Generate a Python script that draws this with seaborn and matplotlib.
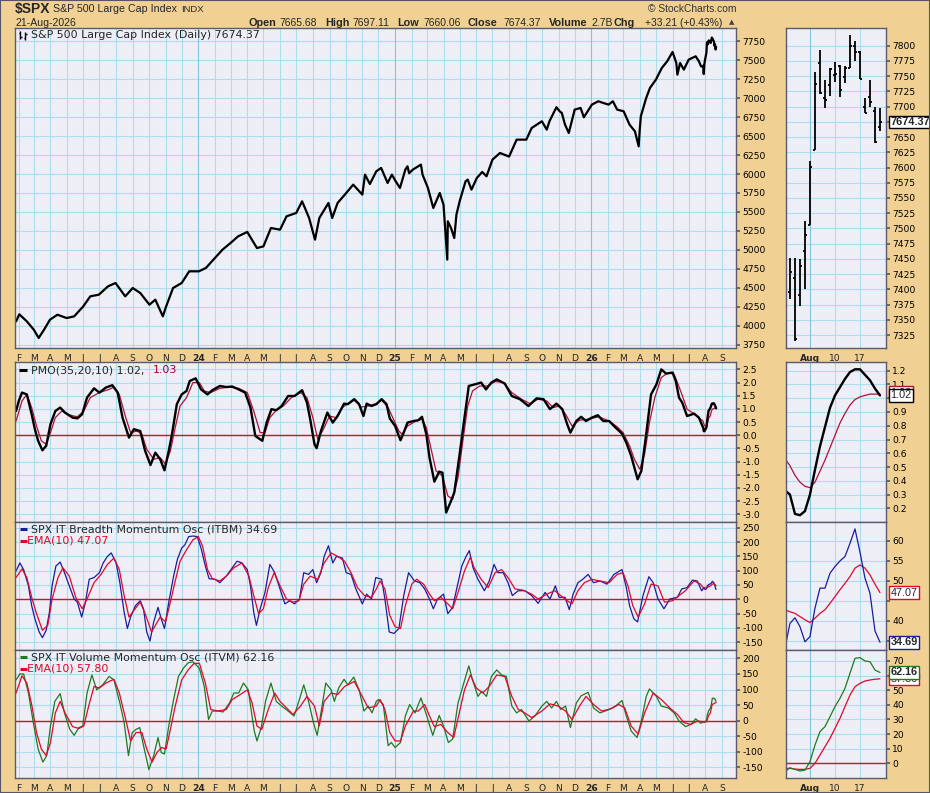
import numpy as np
import pandas as pd
import seaborn as sns
import matplotlib.pyplot as plt
from matplotlib.lines import Line2D
from matplotlib.patches import Rectangle
from matplotlib.transforms import blended_transform_factory

W, H = 930, 793

BG = "#F0D093"
FACE = "#EEEEF6"
GRID = "#ABDDEC"
GRID_YEAR = "#85C2DC"
EDGE = "#5B5B70"
RED = "#E2062E"
SIG_RED = "#B0103A"
BLUE = "#1C1C9C"
GREEN = "#1E7A1E"
ARIAL = "Liberation Sans"

# ---- S&P 500 closes (roughly weekly) ----
price_dates = [
    "2023-01-27", "2023-02-02", "2023-02-16", "2023-03-01", "2023-03-10", "2023-03-20",
    "2023-03-31", "2023-04-14", "2023-05-01", "2023-05-15", "2023-06-01", "2023-06-14",
    "2023-06-30", "2023-07-17", "2023-07-31", "2023-08-18", "2023-09-01", "2023-09-15",
    "2023-10-02", "2023-10-13", "2023-10-27", "2023-11-01", "2023-11-15", "2023-12-01",
    "2023-12-15", "2024-01-02", "2024-01-15", "2024-02-01", "2024-02-15", "2024-03-01",
    "2024-03-15", "2024-04-01", "2024-04-19", "2024-05-01", "2024-05-15", "2024-06-01",
    "2024-06-13", "2024-07-01", "2024-07-12", "2024-07-25", "2024-08-05", "2024-08-13",
    "2024-08-30", "2024-09-06", "2024-09-16", "2024-10-01", "2024-10-15", "2024-11-01",
    "2024-11-06", "2024-11-15", "2024-11-27", "2024-12-06", "2024-12-18", "2024-12-26",
    "2025-01-02", "2025-01-10", "2025-01-20", "2025-01-24", "2025-01-27", "2025-02-03",
    "2025-02-18", "2025-02-21", "2025-03-03", "2025-03-13", "2025-03-25", "2025-04-01",
    "2025-04-08", "2025-04-09", "2025-04-15", "2025-04-21", "2025-04-25", "2025-05-01",
    "2025-05-12", "2025-05-16", "2025-05-23", "2025-06-02", "2025-06-12", "2025-06-20",
    "2025-07-01", "2025-07-15", "2025-08-01", "2025-08-15", "2025-09-02", "2025-09-12",
    "2025-10-01", "2025-10-10", "2025-10-15", "2025-10-28", "2025-11-03", "2025-11-07",
    "2025-11-13", "2025-11-20", "2025-12-01", "2025-12-12", "2025-12-18", "2026-01-02",
    "2026-01-14", "2026-01-23", "2026-02-02", "2026-02-10", "2026-02-18", "2026-03-02",
    "2026-03-13", "2026-03-23", "2026-03-30", "2026-04-01", "2026-04-03", "2026-04-13",
    "2026-04-20", "2026-05-01", "2026-05-12", "2026-05-22", "2026-06-01", "2026-06-08",
    "2026-06-10", "2026-06-15", "2026-06-22", "2026-07-01", "2026-07-14", "2026-07-20",
    "2026-07-24",
]
price_close = [
    4057, 4150, 4057, 3947, 3838, 3947,
    4079, 4145, 4101, 4123, 4255, 4387,
    4409, 4519, 4563, 4387, 4497, 4431,
    4277, 4343, 4123, 4233, 4497, 4563,
    4717, 4717, 4761, 4893, 5003, 5091,
    5178, 5236, 5024, 5046, 5288, 5266,
    5442, 5486, 5640, 5420, 5134, 5420,
    5618, 5420, 5618, 5741, 5860, 5728,
    5992, 5868, 6036, 6080, 5882, 5992,
    5904, 5816, 6058, 6102, 6010, 6058,
    6124, 5992, 5816, 5552, 5750, 5596,
    4871, 5376, 5288, 5156, 5464, 5640,
    5904, 5926, 5794, 5948, 6027, 5970,
    6189, 6277, 6230, 6453, 6453, 6607,
    6695, 6585, 6695, 6880, 6827, 6805,
    6651, 6541, 6849, 6871, 6748, 6915,
    6959, 6937, 6915, 6959, 6849, 6827,
    6651, 6563, 6365, 6585, 6761, 7003,
    7135, 7244, 7398, 7486, 7609, 7464,
    7310, 7464, 7376, 7508, 7552, 7486,
    7420,
]

# ---- last sessions, from the right-hand zoom panels ----
zoom_dates = [
    "2026-07-27", "2026-07-28", "2026-07-29", "2026-07-30", "2026-07-31",
    "2026-08-03", "2026-08-04", "2026-08-05", "2026-08-06", "2026-08-07",
    "2026-08-10", "2026-08-11", "2026-08-12", "2026-08-13", "2026-08-14",
    "2026-08-17", "2026-08-18", "2026-08-19", "2026-08-20", "2026-08-21",
]
zoom_open = [7410, 7396, 7419, 7391, 7463, 7506, 7629, 7771, 7714, 7735,
             7752, 7767, 7748, 7763, 7799, 7790, 7699, 7716, 7692, 7665.68]
zoom_high = [7418, 7452, 7451, 7450, 7512, 7610, 7757, 7793, 7744, 7763,
             7773, 7769, 7766, 7818, 7808, 7792, 7714, 7744, 7699, 7697.11]
zoom_low = [7405, 7384, 7316, 7372, 7400, 7506, 7629, 7721, 7697, 7718,
            7741, 7716, 7738, 7763, 7775, 7745, 7689, 7700, 7640, 7660.06]
zoom_close = [7414, 7428, 7318, 7438, 7489, 7601, 7737, 7723, 7711, 7761,
              7753, 7728, 7764, 7799, 7790, 7745, 7690, 7708, 7641.16, 7674.37]
zoom_pmo = [0.33, 0.30, 0.16, 0.15, 0.18, 0.30, 0.48, 0.65, 0.79, 0.93,
            1.02, 1.08, 1.14, 1.19, 1.21, 1.21, 1.17, 1.13, 1.07, 1.02]
zoom_pmo_sig = [0.56, 0.51, 0.44, 0.39, 0.36, 0.35, 0.39, 0.47, 0.55, 0.64,
                0.73, 0.82, 0.89, 0.95, 0.99, 1.01, 1.02, 1.03, 1.03, 1.03]
zoom_itbm = [33.2, 39.4, 40.8, 38.6, 34.8, 36.1, 43.2, 48.2, 48.2, 51.9,
             53.6, 55.0, 56.1, 59.4, 63.0, 57.2, 50.7, 46.9, 37.5, 34.69]
zoom_itbm_ema = [42.8, 42.3, 41.9, 41.1, 40.3, 39.6, 40.7, 41.9, 42.8, 44.4,
                 46.1, 47.8, 49.4, 51.1, 53.2, 54.0, 53.2, 51.5, 49.2, 47.07]
zoom_itvm = [-5.7, -3.0, -4.1, -5.2, -4.6, 1.1, 12.5, 21.7, 25.1, 31.9,
             38.8, 44.5, 51.3, 61.6, 71.8, 72.3, 70.0, 69.5, 63.8, 62.16]
zoom_itvm_ema = [-3.4, -3.4, -3.9, -4.1, -4.1, -3.4, 0.0, 5.7, 11.4, 17.1,
                 23.9, 30.8, 38.8, 46.7, 52.4, 54.7, 56.3, 57.0, 57.5, 57.80]

# ---- PMO(35,20,10) ----
pmo_dates = [
    "2023-01-27", "2023-02-01", "2023-02-07", "2023-02-16", "2023-02-25", "2023-03-03",
    "2023-03-09", "2023-03-17", "2023-03-24", "2023-04-01", "2023-04-10", "2023-04-19",
    "2023-04-28", "2023-05-12", "2023-05-21", "2023-05-30", "2023-06-08", "2023-06-21",
    "2023-07-01", "2023-07-13", "2023-07-25", "2023-08-04", "2023-08-13", "2023-08-25",
    "2023-09-03", "2023-09-15", "2023-09-24", "2023-10-04", "2023-10-13", "2023-10-22",
    "2023-10-30", "2023-11-07", "2023-11-13", "2023-11-22", "2023-12-01", "2023-12-10",
    "2023-12-16", "2023-12-27", "2024-01-06", "2024-01-18", "2024-01-27", "2024-02-10",
    "2024-02-22", "2024-03-04", "2024-03-16", "2024-03-28", "2024-04-07", "2024-04-16",
    "2024-04-29", "2024-05-07", "2024-05-16", "2024-05-25", "2024-06-04", "2024-06-16",
    "2024-06-28", "2024-07-12", "2024-07-21", "2024-07-27", "2024-08-04", "2024-08-08",
    "2024-08-16", "2024-08-28", "2024-09-07", "2024-09-16", "2024-09-28", "2024-10-05",
    "2024-10-17", "2024-10-26", "2024-11-03", "2024-11-09", "2024-11-18", "2024-11-27",
    "2024-12-07", "2024-12-16", "2024-12-22", "2025-01-01", "2025-01-11", "2025-01-17",
    "2025-01-24", "2025-02-04", "2025-02-13", "2025-02-20", "2025-02-28", "2025-03-06",
    "2025-03-15", "2025-03-24", "2025-03-30", "2025-04-06", "2025-04-15", "2025-04-21",
    "2025-05-01", "2025-05-10", "2025-05-18", "2025-05-29", "2025-06-10", "2025-06-19",
    "2025-06-29", "2025-07-09", "2025-07-24", "2025-08-06", "2025-08-21", "2025-09-06",
    "2025-09-21", "2025-10-04", "2025-10-16", "2025-10-28", "2025-11-08", "2025-11-17",
    "2025-11-23", "2025-12-04", "2025-12-13", "2025-12-22", "2026-01-02", "2026-01-13",
    "2026-01-23", "2026-02-03", "2026-02-15", "2026-02-27", "2026-03-07", "2026-03-16",
    "2026-03-28", "2026-04-04", "2026-04-13", "2026-04-22", "2026-05-02", "2026-05-11",
    "2026-05-20", "2026-06-01", "2026-06-07", "2026-06-13", "2026-06-19", "2026-06-28",
    "2026-07-11", "2026-07-20",
]
pmo_vals = [
    0.92, 1.30, 1.62, 1.55, 0.80, 0.23,
    -0.21, -0.57, -0.40, 0.42, 0.92, 1.05,
    0.86, 0.67, 0.64, 0.80, 1.43, 1.78,
    1.62, 1.81, 1.90, 1.62, 0.67, -0.09,
    0.23, 0.16, -0.59, -1.13, -0.66, -0.91,
    -1.33, -0.59, 0.04, 1.18, 1.55, 1.68,
    2.06, 2.16, 1.74, 1.55, 1.71, 1.87,
    1.83, 1.85, 1.74, 1.62, 1.05, -0.03,
    -0.21, 0.48, 0.99, 0.95, 1.11, 1.49,
    1.49, 1.71, 1.24, 0.61, -0.34, -0.49,
    0.16, 0.86, 0.48, 0.73, 1.20, 1.18,
    1.37, 1.18, 0.73, 1.20, 1.11, 1.18,
    1.37, 1.18, 0.64, 0.35, -0.19, 0.10,
    0.48, 0.54, 0.57, 0.70, 0.04, -0.85,
    -1.76, -1.38, -1.42, -2.93, -2.49, -2.17,
    -0.72, 0.67, 1.87, 1.93, 2.00, 1.74,
    2.00, 2.12, 1.96, 1.49, 1.37, 1.11,
    1.40, 1.37, 0.99, 1.20, 0.99, 0.42,
    0.10, 0.54, 0.70, 0.54, 0.67, 0.76,
    0.54, 0.54, 0.29, 0.06, -0.28, -0.78,
    -1.67, -1.35, 0.04, 1.55, 1.93, 2.50,
    2.34, 2.38, 2.06, 1.43, 1.24, 0.73,
    0.82, 0.67,
]
pmo_sig_dates = [
    "2023-01-27", "2023-02-07", "2023-02-16", "2023-02-25", "2023-03-06", "2023-03-15",
    "2023-03-24", "2023-04-01", "2023-04-10", "2023-04-22", "2023-05-06", "2023-05-21",
    "2023-06-02", "2023-06-14", "2023-07-01", "2023-07-19", "2023-07-28", "2023-08-07",
    "2023-08-19", "2023-08-28", "2023-09-09", "2023-09-18", "2023-09-27", "2023-10-10",
    "2023-10-22", "2023-11-01", "2023-11-10", "2023-11-19", "2023-11-28", "2023-12-10",
    "2023-12-22", "2024-01-03", "2024-01-12", "2024-01-24", "2024-02-10", "2024-02-27",
    "2024-03-16", "2024-04-01", "2024-04-13", "2024-04-25", "2024-05-04", "2024-05-13",
    "2024-05-25", "2024-06-07", "2024-06-22", "2024-07-09", "2024-07-21", "2024-08-01",
    "2024-08-10", "2024-08-19", "2024-09-01", "2024-09-13", "2024-09-25", "2024-10-05",
    "2024-10-17", "2024-10-30", "2024-11-12", "2024-11-27", "2024-12-07", "2024-12-19",
    "2024-12-29", "2025-01-08", "2025-01-14", "2025-01-24", "2025-02-07", "2025-02-20",
    "2025-02-28", "2025-03-09", "2025-03-18", "2025-03-30", "2025-04-09", "2025-04-18",
    "2025-04-28", "2025-05-07", "2025-05-16", "2025-05-25", "2025-06-07", "2025-06-22",
    "2025-07-06", "2025-07-21", "2025-08-06", "2025-08-24", "2025-09-09", "2025-09-24",
    "2025-10-10", "2025-10-22", "2025-11-02", "2025-11-14", "2025-11-26", "2025-12-10",
    "2025-12-26", "2026-01-15", "2026-02-03", "2026-02-18", "2026-03-01", "2026-03-13",
    "2026-03-22", "2026-04-01", "2026-04-10", "2026-04-19", "2026-04-29", "2026-05-11",
    "2026-05-24", "2026-06-04", "2026-06-16", "2026-06-28", "2026-07-11", "2026-07-23",
]
pmo_sig_vals = [
    0.54, 1.30, 1.55, 1.05, 0.35, -0.21,
    -0.34, 0.10, 0.67, 0.92, 0.77, 0.70,
    0.92, 1.43, 1.62, 1.74, 1.83, 1.55,
    0.67, 0.10, 0.16, 0.04, -0.53, -0.91,
    -0.85, -1.10, -0.59, 0.29, 1.11, 1.43,
    2.00, 2.00, 1.68, 1.62, 1.78, 1.83,
    1.78, 1.62, 0.92, 0.10, 0.10, 0.67,
    0.95, 1.11, 1.43, 1.62, 1.43, 0.67,
    -0.15, 0.16, 0.73, 0.67, 1.05, 1.20,
    1.33, 1.07, 1.11, 1.20, 1.33, 1.05,
    0.61, 0.16, 0.04, 0.35, 0.52, 0.61,
    0.29, -0.53, -1.35, -1.54, -2.30, -2.43,
    -1.61, -0.21, 1.11, 1.68, 1.87, 1.87,
    2.04, 2.00, 1.62, 1.37, 1.20, 1.37,
    1.30, 1.05, 1.11, 0.80, 0.35, 0.57,
    0.61, 0.70, 0.54, 0.32, 0.10, -0.40,
    -0.91, -1.29, -0.72, 0.48, 1.43, 2.19,
    2.38, 2.31, 1.68, 0.99, 0.82, 0.61,
]

# ---- SPX IT Breadth Momentum Osc ----
itbm_dates = [
    "2023-01-27", "2023-02-03", "2023-02-10", "2023-02-19", "2023-02-25", "2023-03-03",
    "2023-03-11", "2023-03-17", "2023-03-24", "2023-03-30", "2023-04-04", "2023-04-11",
    "2023-04-19", "2023-04-27", "2023-05-06", "2023-05-15", "2023-05-21", "2023-05-29",
    "2023-06-05", "2023-06-12", "2023-06-21", "2023-07-01", "2023-07-08", "2023-07-16",
    "2023-07-23", "2023-08-01", "2023-08-08", "2023-08-16", "2023-08-22", "2023-08-28",
    "2023-09-06", "2023-09-15", "2023-09-21", "2023-09-27", "2023-10-03", "2023-10-10",
    "2023-10-18", "2023-10-24", "2023-10-30", "2023-11-07", "2023-11-16", "2023-11-23",
    "2023-12-01", "2023-12-07", "2023-12-14", "2023-12-22", "2023-12-30", "2024-01-06",
    "2024-01-14", "2024-01-21", "2024-02-01", "2024-02-10", "2024-02-22", "2024-03-04",
    "2024-03-13", "2024-03-22", "2024-04-01", "2024-04-07", "2024-04-13", "2024-04-18",
    "2024-04-25", "2024-05-04", "2024-05-13", "2024-05-22", "2024-06-01", "2024-06-10",
    "2024-06-19", "2024-06-28", "2024-07-07", "2024-07-15", "2024-07-24", "2024-08-01",
    "2024-08-08", "2024-08-16", "2024-08-22", "2024-08-30", "2024-09-07", "2024-09-14",
    "2024-09-25", "2024-10-02", "2024-10-11", "2024-10-20", "2024-11-01", "2024-11-09",
    "2024-11-18", "2024-11-26", "2024-12-07", "2024-12-13", "2024-12-21", "2024-12-30",
    "2025-01-08", "2025-01-17", "2025-01-26", "2025-02-06", "2025-02-16", "2025-02-25",
    "2025-03-06", "2025-03-13", "2025-03-21", "2025-04-01", "2025-04-09", "2025-04-18",
    "2025-04-26", "2025-05-05", "2025-05-13", "2025-05-19", "2025-05-26", "2025-06-04",
    "2025-06-16", "2025-06-25", "2025-07-04", "2025-07-11", "2025-07-21", "2025-07-30",
    "2025-08-07", "2025-08-18", "2025-08-30", "2025-09-12", "2025-09-24", "2025-10-07",
    "2025-10-16", "2025-10-26", "2025-11-02", "2025-11-13", "2025-11-21", "2025-11-28",
    "2025-12-07", "2025-12-16", "2025-12-26", "2026-01-05", "2026-01-17", "2026-01-30",
    "2026-02-12", "2026-02-27", "2026-03-07", "2026-03-13", "2026-03-21", "2026-03-28",
    "2026-04-07", "2026-04-18", "2026-04-26", "2026-05-05", "2026-05-16", "2026-05-27",
    "2026-06-10", "2026-06-18", "2026-06-28", "2026-07-08", "2026-07-17", "2026-07-25",
]
itbm_vals = [
    99, 127, 104, 47, -22, -68,
    -114, -134, -108, -45, 47, 116,
    130, 93, 47, 1, -10, -62,
    -10, 70, 76, 93, 127, 150,
    162, 127, 58, -45, -102, -62,
    -22, -5, -33, -114, -146, -79,
    -28, -68, -102, -10, 81, 139,
    179, 190, 219, 221, 219, 179,
    116, 72, 70, 58, 81, 110,
    133, 127, 104, 47, -45, -91,
    -33, 24, 122, 93, 36, -16,
    -5, -16, 1, 93, 87, 104,
    58, 93, 150, 187, 127, 150,
    144, 93, 87, 36, -16, 18,
    1, 76, 70, 1, -114, -119,
    -102, 13, 93, 64, 58, 36,
    1, -33, 1, 18, -50, -28,
    41, 116, 150, 170, 110, 70,
    30, 64, 122, 93, 93, 58,
    13, 30, 30, 13, -14, 24,
    1, 47, 7, 7, -36, 18,
    58, 70, 87, 58, 64, 53,
    87, 104, 41, -22, -68, -79,
    13, 79, 58, 1, -33, 1,
    7, 36, 41, 67, 64, 30,
]
itbm_ema_dates = [
    "2023-01-27", "2023-02-07", "2023-02-16", "2023-02-25", "2023-03-06", "2023-03-17",
    "2023-03-27", "2023-04-04", "2023-04-15", "2023-04-24", "2023-05-06", "2023-05-18",
    "2023-05-30", "2023-06-08", "2023-06-21", "2023-07-04", "2023-07-16", "2023-07-28",
    "2023-08-07", "2023-08-16", "2023-08-25", "2023-09-03", "2023-09-15", "2023-09-24",
    "2023-10-06", "2023-10-13", "2023-10-22", "2023-11-01", "2023-11-10", "2023-11-19",
    "2023-11-28", "2023-12-10", "2023-12-22", "2024-01-01", "2024-01-09", "2024-01-18",
    "2024-01-27", "2024-02-10", "2024-02-22", "2024-03-07", "2024-03-22", "2024-04-04",
    "2024-04-13", "2024-04-22", "2024-05-01", "2024-05-10", "2024-05-21", "2024-06-01",
    "2024-06-13", "2024-06-25", "2024-07-06", "2024-07-15", "2024-07-27", "2024-08-10",
    "2024-08-22", "2024-09-04", "2024-09-16", "2024-09-29", "2024-10-11", "2024-10-23",
    "2024-11-05", "2024-11-18", "2024-11-27", "2024-12-04", "2024-12-13", "2024-12-22",
    "2025-01-01", "2025-01-11", "2025-01-20", "2025-02-01", "2025-02-10", "2025-02-23",
    "2025-03-06", "2025-03-15", "2025-03-27", "2025-04-09", "2025-04-18", "2025-04-28",
    "2025-05-10", "2025-05-21", "2025-05-28", "2025-06-10", "2025-06-23", "2025-07-06",
    "2025-07-18", "2025-07-30", "2025-08-12", "2025-08-27", "2025-09-12", "2025-09-24",
    "2025-10-10", "2025-10-25", "2025-11-05", "2025-11-17", "2025-11-26", "2025-12-07",
    "2025-12-19", "2026-01-02", "2026-01-17", "2026-02-03", "2026-02-18", "2026-03-01",
    "2026-03-10", "2026-03-19", "2026-03-29", "2026-04-10", "2026-04-22", "2026-05-05",
    "2026-05-17", "2026-06-01", "2026-06-13", "2026-06-25", "2026-07-11", "2026-07-23",
]
itbm_ema_vals = [
    76, 106, 76, 7, -50, -108,
    -91, 1, 76, 110, 81, 7,
    -33, 1, 58, 87, 122, 144,
    104, 13, -62, -39, -10, -50,
    -114, -91, -62, -79, -10, 64,
    133, 173, 208, 219, 185, 104,
    72, 64, 81, 110, 127, 81,
    13, -50, -33, 41, 93, 47,
    1, -10, -5, 53, 81, 70,
    127, 162, 150, 133, 93, 41,
    13, 7, 36, 64, 36, -56,
    -96, -102, -22, 53, 70, 53,
    18, -5, 7, -16, -33, 24,
    99, 147, 110, 70, 41, 93,
    104, 76, 36, 32, 18, 1,
    18, 30, 13, -5, -16, 30,
    58, 70, 64, 58, 87, 93,
    47, -22, -62, -16, 53, 47,
    -10, -5, 13, 30, 64, 53,
]

# ---- SPX IT Volume Momentum Osc ----
itvm_dates = [
    "2023-01-27", "2023-02-03", "2023-02-10", "2023-02-19", "2023-02-28", "2023-03-09",
    "2023-03-18", "2023-03-25", "2023-04-01", "2023-04-09", "2023-04-19", "2023-04-27",
    "2023-05-07", "2023-05-15", "2023-05-24", "2023-05-31", "2023-06-08", "2023-06-17",
    "2023-06-26", "2023-07-07", "2023-07-19", "2023-07-28", "2023-08-08", "2023-08-16",
    "2023-08-24", "2023-08-31", "2023-09-07", "2023-09-14", "2023-09-21", "2023-10-01",
    "2023-10-10", "2023-10-18", "2023-10-24", "2023-10-30", "2023-11-07", "2023-11-16",
    "2023-11-25", "2023-12-04", "2023-12-13", "2023-12-22", "2024-01-03", "2024-01-12",
    "2024-01-20", "2024-01-27", "2024-02-07", "2024-02-16", "2024-02-28", "2024-03-07",
    "2024-03-16", "2024-03-25", "2024-04-03", "2024-04-09", "2024-04-14", "2024-04-19",
    "2024-04-27", "2024-05-05", "2024-05-15", "2024-05-25", "2024-06-04", "2024-06-16",
    "2024-06-27", "2024-07-07", "2024-07-15", "2024-07-24", "2024-08-02", "2024-08-09",
    "2024-08-16", "2024-08-25", "2024-09-04", "2024-09-10", "2024-09-18", "2024-09-28",
    "2024-10-05", "2024-10-16", "2024-10-26", "2024-11-04", "2024-11-12", "2024-11-19",
    "2024-11-27", "2024-12-01", "2024-12-10", "2024-12-19", "2024-12-25", "2025-01-01",
    "2025-01-11", "2025-01-20", "2025-01-28", "2025-02-07", "2025-02-18", "2025-02-28",
    "2025-03-12", "2025-03-24", "2025-04-01", "2025-04-10", "2025-04-18", "2025-04-28",
    "2025-05-07", "2025-05-18", "2025-05-25", "2025-06-04", "2025-06-11", "2025-06-20",
    "2025-06-29", "2025-07-09", "2025-07-18", "2025-07-27", "2025-08-06", "2025-08-15",
    "2025-08-24", "2025-09-07", "2025-09-18", "2025-10-01", "2025-10-10", "2025-10-19",
    "2025-10-28", "2025-11-05", "2025-11-14", "2025-11-23", "2025-12-04", "2025-12-13",
    "2025-12-26", "2026-01-05", "2026-01-17", "2026-02-03", "2026-02-15", "2026-02-27",
    "2026-03-07", "2026-03-16", "2026-03-27", "2026-04-04", "2026-04-13", "2026-04-19",
    "2026-05-02", "2026-05-11", "2026-05-24", "2026-06-04", "2026-06-13", "2026-06-25",
    "2026-07-05", "2026-07-14", "2026-07-23",
]
itvm_vals = [
    131, 150, 150, 89, -6, -91,
    -133, -112, -17, 62, 87, 25,
    -28, -47, -22, -17, 89, 147,
    99, 115, 142, 131, 57, -6,
    -112, -38, -28, -22, -80, -157,
    -112, -54, -102, -107, -17, 68,
    142, 168, 186, 189, 168, 110,
    4, 31, 31, 28, 57, 89,
    89, 121, 99, 25, -33, -65,
    -22, 62, 121, 62, 47, 31,
    15, 68, 115, 62, -6, -47,
    25, 121, 99, 62, 105, 133,
    115, 140, 99, 31, 47, 25,
    62, 68, 52, -80, -70, -86,
    -70, 15, 52, 25, 73, 20,
    -47, 17, -17, -70, -59, 57,
    110, 176, 131, 78, 94, 78,
    142, 163, 147, 142, 47, 25,
    36, -1, 15, 47, 62, 41,
    62, 36, 47, -22, 57, 80,
    91, 41, 25, 36, 47, 65,
    15, -33, -54, -1, 78, 102,
    78, 47, 41, 25, -1, -19,
    -12, 6, -8,
]
itvm_ema_dates = [
    "2023-01-27", "2023-02-07", "2023-02-16", "2023-02-25", "2023-03-06", "2023-03-15",
    "2023-03-24", "2023-04-01", "2023-04-10", "2023-04-19", "2023-04-28", "2023-05-12",
    "2023-05-24", "2023-06-02", "2023-06-11", "2023-06-21", "2023-07-01", "2023-07-13",
    "2023-07-28", "2023-08-07", "2023-08-19", "2023-08-28", "2023-09-07", "2023-09-18",
    "2023-09-27", "2023-10-07", "2023-10-16", "2023-10-25", "2023-11-02", "2023-11-10",
    "2023-11-19", "2023-12-01", "2023-12-13", "2023-12-24", "2024-01-03", "2024-01-14",
    "2024-01-24", "2024-02-07", "2024-02-22", "2024-03-04", "2024-03-19", "2024-04-01",
    "2024-04-10", "2024-04-19", "2024-04-28", "2024-05-10", "2024-05-22", "2024-06-01",
    "2024-06-13", "2024-06-25", "2024-07-09", "2024-07-21", "2024-08-04", "2024-08-13",
    "2024-08-22", "2024-09-04", "2024-09-16", "2024-09-29", "2024-10-17", "2024-10-30",
    "2024-11-12", "2024-11-27", "2024-12-04", "2024-12-13", "2024-12-22", "2025-01-01",
    "2025-01-11", "2025-01-20", "2025-02-04", "2025-02-13", "2025-02-25", "2025-03-06",
    "2025-03-15", "2025-03-27", "2025-04-09", "2025-04-20", "2025-05-01", "2025-05-10",
    "2025-05-21", "2025-06-01", "2025-06-13", "2025-06-25", "2025-07-09", "2025-07-24",
    "2025-08-06", "2025-08-18", "2025-08-30", "2025-09-12", "2025-10-01", "2025-10-16",
    "2025-10-31", "2025-11-14", "2025-11-26", "2025-12-10", "2025-12-22", "2026-01-05",
    "2026-01-20", "2026-02-06", "2026-02-21", "2026-03-04", "2026-03-16", "2026-03-29",
    "2026-04-10", "2026-04-26", "2026-05-11", "2026-05-27", "2026-06-10", "2026-06-22",
    "2026-07-05", "2026-07-17",
]
itvm_ema_vals = [
    89, 144, 121, 52, -38, -91,
    -112, -70, 25, 62, 25, -19,
    -25, -17, 47, 110, 105, 121,
    133, 89, 4, -65, -38, -38,
    -91, -133, -102, -86, -91, -28,
    47, 131, 163, 184, 184, 121,
    36, 31, 36, 68, 84, 99,
    57, -17, -28, 36, 89, 62,
    41, 20, 47, 78, 47, -17,
    62, 89, 84, 110, 126, 84,
    41, 47, 68, 36, -38, -65,
    -65, -17, 31, 31, 52, 15,
    -19, -12, -38, -54, 31, 99,
    147, 105, 89, 110, 147, 142,
    78, 36, 25, 10, 31, 54,
    47, 31, 4, 47, 78, 52,
    31, 38, 52, 41, -17, -43,
    25, 89, 68, 41, 20, -6,
    -12, -1,
]

# header texts: (text, bold, left x in px)
OHLC_HEADER = [
    ("Open", True, 248), ("7665.68", False, 279), ("High", True, 325), ("7697.11", False, 352),
    ("Low", True, 397), ("7660.06", False, 423), ("Close", True, 468), ("7674.37", False, 503),
    ("Volume", True, 549), ("2.7B", False, 591), ("Chg", True, 613), ("+33.21 (+0.43%)", False, 645),
]

XMIN, XMAX = pd.Timestamp("2023-01-25"), pd.Timestamp("2026-09-27")
MONTHS = pd.date_range("2023-02-01", "2026-09-01", freq="MS")


def px_axes(fig, x0, y0, x1, y1):
    """Axes from a pixel box measured from the top-left corner."""
    return fig.add_axes([x0 / W, (H - y1) / H, (x1 - x0) / W, (y1 - y0) / H])


def ptext(fig, x, y, s, **kw):
    kw.setdefault("va", "center")
    return fig.text(x / W, 1 - y / H, s, **kw)


def pline(fig, xs, ys, color, lw):
    """Small decoration drawn in pixel coordinates of the figure."""
    fig.add_artist(Line2D([x / W for x in xs], [1 - y / H for y in ys], color=color, lw=lw,
                          solid_capstyle="butt"))


def style_axes(ax, ylim, yticks, fmt, hide=()):
    ax.set_facecolor(FACE)
    for s in ax.spines.values():
        s.set_color(EDGE)
        s.set_linewidth(1.0)
    ax.set_ylim(*ylim)
    ax.yaxis.tick_right()
    ax.set_yticks(yticks)
    ax.set_yticklabels(["" if any(abs(v - h) < 1e-6 for h in hide) else fmt(v) for v in yticks])
    ax.tick_params(axis="y", direction="out", length=3, pad=1.5, labelsize=6.6,
                   color=EDGE, labelcolor="black")
    for v in yticks:
        ax.axhline(v, color=GRID, lw=0.8, zorder=0)
    ax.set_xlabel("")
    ax.set_ylabel("")


def month_axis(ax, show_labels):
    ax.set_xlim(XMIN, XMAX)
    ax.set_xticks(MONTHS)
    for m in MONTHS:
        ax.axvline(m, color=GRID_YEAR if m.month == 1 else GRID, lw=0.8, zorder=0)
    if show_labels:
        labels = [str(m.year)[2:] if m.month == 1 else m.strftime("%b")[0] for m in MONTHS]
        ax.set_xticklabels(labels)
        for lab, m in zip(ax.get_xticklabels(), MONTHS):
            if m.month == 1:
                lab.set_fontweight("bold")
                lab.set_fontsize(7.5)
    else:
        ax.set_xticklabels([])
    ax.tick_params(axis="x", direction="out", length=2, pad=2, labelsize=6.6, color=EDGE)


def zoom_axis(ax, show_labels):
    ax.set_xlim(0.15, 20.2)
    ticks = [5, 10, 15]
    ax.set_xticks(ticks)
    for t in ticks:
        ax.axvline(t, color=GRID_YEAR if t == 5 else GRID, lw=0.8, zorder=0)
    if show_labels:
        ax.set_xticklabels(["Aug", "10", "17"])
        ax.get_xticklabels()[0].set_fontweight("bold")
        ax.get_xticklabels()[0].set_fontsize(7.5)
    else:
        ax.set_xticklabels([])
    ax.tick_params(axis="x", direction="out", length=2, pad=2, labelsize=6.6, color=EDGE)


def tag(ax, y, s, ec, bold=False, z=10):
    tr = blended_transform_factory(ax.transAxes, ax.transData)
    ax.text(1.045, y, s, transform=tr, va="center", ha="left", fontsize=7.8,
            family=ARIAL, fontweight="bold" if bold else "normal", zorder=z, clip_on=False,
            bbox=dict(boxstyle="square,pad=0.12", fc="white", ec=ec, lw=1.0))


def line(ax, x, y, color, lw):
    sns.lineplot(x=x, y=y, ax=ax, color=color, lw=lw, sort=False, estimator=None)


def main():
    sns.set_theme(style="white")
    plt.rcParams["font.family"] = ["DejaVu Sans"]

    fig = plt.figure(figsize=(W / 100, H / 100), dpi=100, facecolor=BG)

    zd = pd.to_datetime(zoom_dates)
    zi = np.arange(len(zoom_dates))

    # ---- main panels ----
    ax_p = px_axes(fig, 15, 28, 736, 348)
    ax_m = px_axes(fig, 15, 362, 736, 521.7)
    ax_b = px_axes(fig, 15, 521.7, 736, 650)
    ax_v = px_axes(fig, 15, 650, 736, 778)

    pd_all = pd.to_datetime(price_dates).append(zd)
    line(ax_p, pd_all, price_close + zoom_close, "black", 1.6)

    line(ax_m, pd.to_datetime(pmo_sig_dates).append(zd), pmo_sig_vals + zoom_pmo_sig, SIG_RED, 0.9)
    line(ax_m, pd.to_datetime(pmo_dates).append(zd), pmo_vals + zoom_pmo, "black", 1.7)
    ax_m.axhline(0, color=RED, lw=1.0, zorder=1)

    line(ax_b, pd.to_datetime(itbm_dates).append(zd), itbm_vals + zoom_itbm, BLUE, 0.9)
    line(ax_b, pd.to_datetime(itbm_ema_dates).append(zd), itbm_ema_vals + zoom_itbm_ema, RED, 0.9)
    ax_b.axhline(0, color=RED, lw=1.0, zorder=1)

    line(ax_v, pd.to_datetime(itvm_dates).append(zd), itvm_vals + zoom_itvm, GREEN, 0.9)
    line(ax_v, pd.to_datetime(itvm_ema_dates).append(zd), itvm_ema_vals + zoom_itvm_ema, RED, 0.9)
    ax_v.axhline(0, color=RED, lw=1.0, zorder=1)

    style_axes(ax_p, (3706, 7925), np.arange(3750, 7751, 250), lambda v: f"{v:.0f}")
    style_axes(ax_m, (-3.28, 2.78), np.arange(-3.0, 2.51, 0.5), lambda v: f"{v:.1f}")
    style_axes(ax_b, (-177, 271), np.arange(-150, 251, 50), lambda v: f"{v:.0f}")
    style_axes(ax_v, (-184, 227), np.arange(-150, 201, 50), lambda v: f"{v:.0f}")
    month_axis(ax_p, True)
    month_axis(ax_m, False)
    month_axis(ax_b, False)
    month_axis(ax_v, True)

    # ---- zoom panels (last 20 sessions) ----
    zx0, zx1 = 785.7, 886
    az_p = px_axes(fig, zx0, 28, zx1, 348)
    az_m = px_axes(fig, zx0, 362, zx1, 521.7)
    az_b = px_axes(fig, zx0, 521.7, zx1, 650)
    az_v = px_axes(fig, zx0, 650, zx1, 778)

    az_p.vlines(zi, zoom_low, zoom_high, color="black", lw=1.3)
    az_p.hlines(zoom_open, zi - 0.35, zi, color="black", lw=1.3)
    az_p.hlines(zoom_close, zi, zi + 0.35, color="black", lw=1.3)

    line(az_m, zi, zoom_pmo_sig, SIG_RED, 0.9)
    line(az_m, zi, zoom_pmo, "black", 1.7)
    line(az_b, zi, zoom_itbm_ema, RED, 0.9)
    line(az_b, zi, zoom_itbm, BLUE, 0.9)
    line(az_v, zi, zoom_itvm_ema, RED, 0.9)
    line(az_v, zi, zoom_itvm, GREEN, 0.9)
    az_v.axhline(0, color=RED, lw=1.0, zorder=1)

    style_axes(az_p, (7303.7, 7829), np.arange(7325, 7801, 25), lambda v: f"{v:.0f}", hide=(7675,))
    style_axes(az_m, (0.103, 1.263), np.arange(0.2, 1.21, 0.1), lambda v: f"{v:.1f}", hide=(1.0,))
    style_axes(az_b, (32.75, 64.8), np.arange(35, 61, 5), lambda v: f"{v:.0f}", hide=(35, 45))
    style_axes(az_v, (-10, 77.5), np.arange(0, 71, 10), lambda v: f"{v:.0f}", hide=(60,))
    zoom_axis(az_p, True)
    zoom_axis(az_m, False)
    zoom_axis(az_b, False)
    zoom_axis(az_v, True)

    tag(az_p, zoom_close[-1], f"{zoom_close[-1]:.2f}", "black", bold=True)
    tag(az_m, zoom_pmo_sig[-1] + 0.01, f"{zoom_pmo_sig[-1]:.2f}", SIG_RED, z=9)
    tag(az_m, zoom_pmo[-1], f"{zoom_pmo[-1]:.2f}", "black")
    tag(az_b, zoom_itbm_ema[-1], f"{zoom_itbm_ema[-1]:.2f}", RED)
    tag(az_b, zoom_itbm[-1], f"{zoom_itbm[-1]:.2f}", BLUE, bold=True)
    tag(az_v, zoom_itvm_ema[-1], f"{zoom_itvm_ema[-1]:.2f}", RED, z=9)
    tag(az_v, zoom_itvm[-1], f"{zoom_itvm[-1]:.2f}", GREEN, bold=True)

    # ---- header ----
    ptext(fig, 15, 9.5, "$SPX", fontsize=10, fontweight="bold", family=ARIAL)
    ptext(fig, 53, 9.5, "S&P 500 Large Cap Index", fontsize=7.7, family=ARIAL)
    ptext(fig, 181, 9.5, "INDX", fontsize=6.8, family=ARIAL)
    ptext(fig, 15, 22.5, "21-Aug-2026", fontsize=7.6, family=ARIAL)
    for s, bold, x in OHLC_HEADER:
        ptext(fig, x, 22.5, s, fontsize=7.8 if bold else 7.5, family=ARIAL,
              fontweight="bold" if bold else "normal")
    ptext(fig, 729, 22.5, "\u25b2", fontsize=5, color="#444444")
    ptext(fig, 692, 9.5, "\u00a9 StockCharts.com", fontsize=7.4, ha="center",
          color="#333333", family=ARIAL)

    # ---- panel legends ----
    # little OHLC-bar glyph in front of the price legend
    pline(fig, [20, 20], [31, 39], "black", 1.0)
    pline(fig, [18.5, 20], [33, 33], "black", 1.0)
    pline(fig, [20, 21.5], [37, 37], "black", 1.0)
    pline(fig, [25, 25], [32, 40], "black", 1.0)
    pline(fig, [23.5, 25], [38, 38], "black", 1.0)
    pline(fig, [25, 26.5], [34, 34], "black", 1.0)
    ptext(fig, 31, 35, "S&P 500 Large Cap Index (Daily) 7674.37", fontsize=7.9)

    pline(fig, [19, 27], [370, 370], "black", 2.2)
    ptext(fig, 31, 370, "PMO(35,20,10) 1.02,", fontsize=7.9)
    ptext(fig, 153, 370, "1.03", fontsize=7.9, color="#990033")
    pline(fig, [20, 27], [529.3, 529.3], BLUE, 2.2)
    ptext(fig, 31, 529.3, "SPX IT Breadth Momentum Osc (ITBM) 34.69", fontsize=7.9)
    pline(fig, [20, 27], [540.7, 540.7], RED, 2.2)
    ptext(fig, 27, 540.7, "EMA(10) 47.07", fontsize=7.9, color=RED)
    pline(fig, [20, 27], [657.3, 657.3], GREEN, 2.2)
    ptext(fig, 31, 657.3, "SPX IT Volume Momentum Osc (ITVM) 62.16", fontsize=7.9)
    pline(fig, [20, 27], [668.7, 668.7], RED, 2.2)
    ptext(fig, 27, 668.7, "EMA(10) 57.80", fontsize=7.9, color=RED)

    fig.add_artist(Rectangle((0, 0), 1, 1, transform=fig.transFigure, fill=False,
                             ec="#555566", lw=1.5))

    fig.savefig("out.png", dpi=100, facecolor=BG)
    plt.close(fig)


if __name__ == "__main__":
    main()
